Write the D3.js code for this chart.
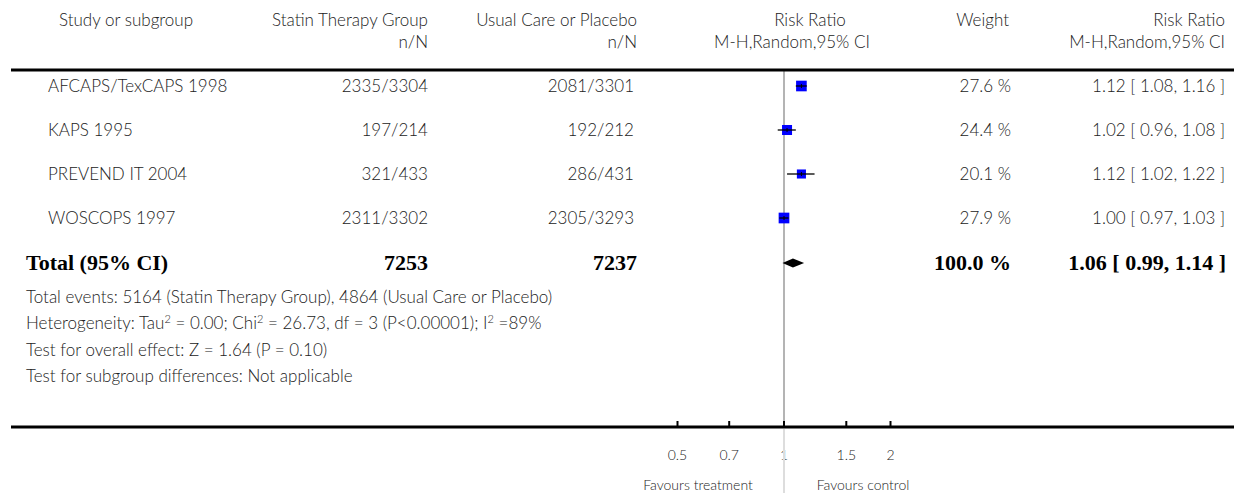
<!DOCTYPE html>
<html>
<head>
<meta charset="utf-8">
<script src="https://cdn.jsdelivr.net/npm/d3@7"></script>
<style>
  html, body { margin: 0; padding: 0; background: #fff; }
  svg { display: block; }
  .t { font-family: Lato, "Open Sans", sans-serif; font-size: 17px; font-weight: 300; fill: #222; }
  .b { font-family: "Liberation Serif", "Times New Roman", serif; font-size: 22px; font-weight: bold; fill: #000; }
  .s { font-family: Lato, "Open Sans", sans-serif; font-size: 14px; font-weight: 300; fill: #222; }
</style>
</head>
<body>
<script>
// Statins vs usual care / placebo: risk ratio forest plot
const studies = ["AFCAPS/TexCAPS 1998", "KAPS 1995", "PREVEND IT 2004", "WOSCOPS 1997"];
const statinEvents = ["2335/3304", "197/214", "321/433", "2311/3302"];
const controlEvents = ["2081/3301", "192/212", "286/431", "2305/3293"];
const weights = [27.6, 24.4, 20.1, 27.9];
const rr = [1.12, 1.02, 1.12, 1.00];
const lower = [1.08, 0.96, 1.02, 0.97];
const upper = [1.16, 1.08, 1.22, 1.03];

const total = { n1: "7253", n2: "7237", weight: "100.0 %", rr: 1.06, lo: 0.99, hi: 1.14 };
const tickValues = [0.5, 0.7, 1, 1.5, 2];
const tickLabels = ["0.5", "0.7", "1", "1.5", "2"];

const W = 1234, H = 493;
const svg = d3.select("body").append("svg").attr("width", W).attr("height", H);

const x = d3.scaleLog().domain([0.5, 2]).range([677.5, 890.5]);
const y = d3.scalePoint().domain(studies).range([86, 218]);
const yTotal = 263;
const boxSize = d3.scaleSqrt().domain([0, 27.9]).range([0, 10.7]);

const fmt2 = d3.format(".2f");
const fmt1 = d3.format(".1f");

// column headers
const head = svg.append("g").attr("class", "t");
head.append("text").attr("x", 59).attr("y", 26).text("Study or subgroup");
head.append("text").attr("x", 428).attr("y", 26).attr("text-anchor", "end").text("Statin Therapy Group");
head.append("text").attr("x", 428).attr("y", 48).attr("text-anchor", "end").text("n/N");
head.append("text").attr("x", 637).attr("y", 26).attr("text-anchor", "end").text("Usual Care or Placebo");
head.append("text").attr("x", 637).attr("y", 48).attr("text-anchor", "end").text("n/N");
head.append("text").attr("x", 810).attr("y", 26).attr("text-anchor", "middle").text("Risk Ratio");
head.append("text").attr("x", 792).attr("y", 48).attr("text-anchor", "middle").text("M-H,Random,95% CI");
head.append("text").attr("x", 1009).attr("y", 26).attr("text-anchor", "end").text("Weight");
head.append("text").attr("x", 1225).attr("y", 26).attr("text-anchor", "end").text("Risk Ratio");
head.append("text").attr("x", 1225).attr("y", 48).attr("text-anchor", "end").text("M-H,Random,95% CI");

// line of no effect
svg.append("line").attr("x1", x(1)).attr("x2", x(1)).attr("y1", 70).attr("y2", 427)
  .attr("stroke", "#b4b4b4").attr("stroke-width", 2);

// study rows
const rows = svg.append("g").selectAll("g").data(studies).join("g")
  .attr("transform", d => `translate(0,${y(d)})`);
rows.append("text").attr("class", "t").attr("x", 48).attr("dy", "0.35em").text(d => d);
rows.append("text").attr("class", "t").attr("x", 428).attr("dy", "0.35em").attr("text-anchor", "end")
  .text((d, i) => statinEvents[i]);
rows.append("text").attr("class", "t").attr("x", 634).attr("dy", "0.35em").attr("text-anchor", "end")
  .text((d, i) => controlEvents[i]);
rows.append("text").attr("class", "t").attr("x", 1011).attr("dy", "0.35em").attr("text-anchor", "end")
  .text((d, i) => fmt1(weights[i]) + " %");
rows.append("text").attr("class", "t").attr("x", 1225).attr("dy", "0.35em").attr("text-anchor", "end")
  .text((d, i) => `${fmt2(rr[i])} [ ${fmt2(lower[i])}, ${fmt2(upper[i])} ]`);

rows.append("rect")
  .attr("x", (d, i) => x(rr[i]) - boxSize(weights[i]) / 2)
  .attr("y", (d, i) => -boxSize(weights[i]) / 2)
  .attr("width", (d, i) => boxSize(weights[i]))
  .attr("height", (d, i) => boxSize(weights[i]))
  .attr("fill", "#0000ff");
rows.append("line")
  .attr("x1", (d, i) => x(lower[i])).attr("x2", (d, i) => x(upper[i]))
  .attr("y1", 0).attr("y2", 0).attr("stroke", "#000").attr("stroke-width", 1.3);
rows.append("line")
  .attr("x1", (d, i) => x(rr[i])).attr("x2", (d, i) => x(rr[i]))
  .attr("y1", -2).attr("y2", 2).attr("stroke", "#000").attr("stroke-width", 1);

// pooled total row
const tot = svg.append("g").attr("class", "b");
tot.append("text").attr("x", 26).attr("y", yTotal).attr("dy", "0.33em").text("Total (95% CI)");
tot.append("text").attr("x", 428).attr("y", yTotal).attr("dy", "0.33em").attr("text-anchor", "end").text(total.n1);
tot.append("text").attr("x", 637).attr("y", yTotal).attr("dy", "0.33em").attr("text-anchor", "end").text(total.n2);
tot.append("text").attr("x", 1011).attr("y", yTotal).attr("dy", "0.33em").attr("text-anchor", "end").text(total.weight);
tot.append("text").attr("x", 1226).attr("y", yTotal).attr("dy", "0.33em").attr("text-anchor", "end")
  .text(`${fmt2(total.rr)} [ ${fmt2(total.lo)}, ${fmt2(total.hi)} ]`);

svg.append("path")
  .attr("d", `M${x(total.lo)},${yTotal} L${x(total.rr)},${yTotal - 4.5} L${x(total.hi)},${yTotal} L${x(total.rr)},${yTotal + 4.5} Z`)
  .attr("fill", "#000");

// summary statistics
const notes = svg.append("g").attr("class", "t");
notes.append("text").attr("x", 26).attr("y", 303)
  .text("Total events: 5164 (Statin Therapy Group), 4864 (Usual Care or Placebo)");
const het = notes.append("text").attr("x", 26).attr("y", 329);
het.append("tspan").text("Heterogeneity: Tau");
het.append("tspan").attr("dy", -6).attr("font-size", 11).text("2");
het.append("tspan").attr("dy", 6).text(" = 0.00; Chi");
het.append("tspan").attr("dy", -6).attr("font-size", 11).text("2");
het.append("tspan").attr("dy", 6).text(" = 26.73, df = 3 (P<0.00001); I");
het.append("tspan").attr("dy", -6).attr("font-size", 11).text("2");
het.append("tspan").attr("dy", 6).text(" =89%");
notes.append("text").attr("x", 26).attr("y", 356).text("Test for overall effect: Z = 1.64 (P = 0.10)");
notes.append("text").attr("x", 26).attr("y", 382).text("Test for subgroup differences: Not applicable");

// rules
svg.append("line").attr("x1", 11).attr("x2", W).attr("y1", 70).attr("y2", 70)
  .attr("stroke", "#000").attr("stroke-width", 3);

// axis
const axis = svg.append("g").attr("transform", "translate(0,427)");
axis.append("line").attr("x1", 11).attr("x2", W).attr("stroke", "#000").attr("stroke-width", 3);
axis.selectAll("line.tick").data(tickValues).join("line").attr("class", "tick")
  .attr("x1", d => x(d)).attr("x2", d => x(d)).attr("y1", -6).attr("y2", 0)
  .attr("stroke", "#000").attr("stroke-width", 2);
axis.selectAll("text").data(tickValues).join("text").attr("class", "s")
  .attr("x", d => x(d)).attr("y", 33).attr("text-anchor", "middle")
  .text((d, i) => tickLabels[i]);

svg.append("line").attr("x1", x(1)).attr("x2", x(1)).attr("y1", 429).attr("y2", H)
  .attr("stroke", "#ddd").attr("stroke-width", 2);

const fav = svg.append("g").attr("class", "s");
fav.append("text").attr("x", x(1) - 86).attr("y", 490).attr("text-anchor", "middle").text("Favours treatment");
fav.append("text").attr("x", x(1) + 79).attr("y", 490).attr("text-anchor", "middle").text("Favours control");
</script>
</body>
</html>
